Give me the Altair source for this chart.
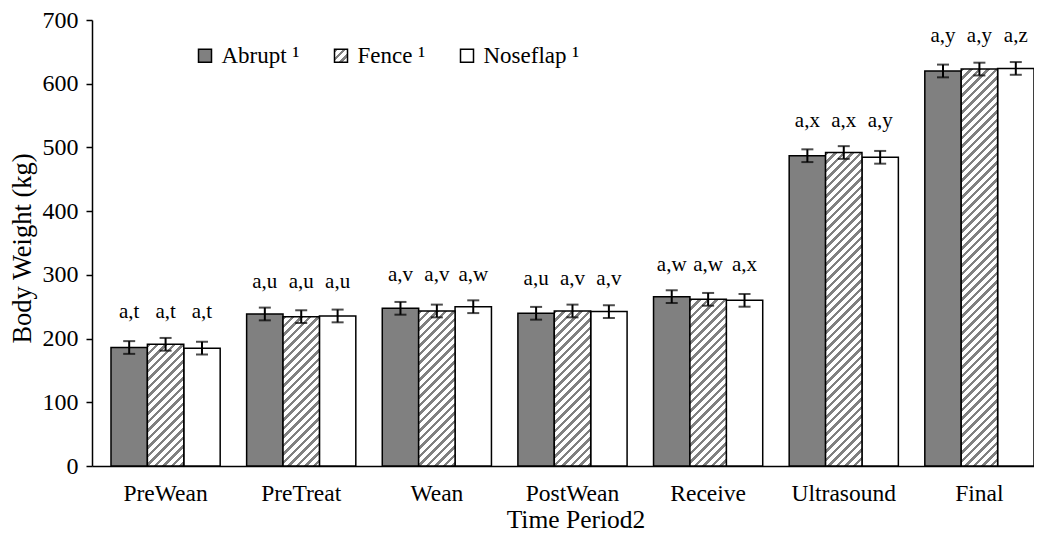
import altair as alt
import pandas as pd

periods = ["PreWean", "PreTreat", "Wean", "PostWean", "Receive", "Ultrasound", "Final"]
series = ["Abrupt", "Fence", "Noseflap"]

abrupt = [186, 238.6, 247.5, 239.7, 265.8, 487, 620]
fence = [191, 234.4, 243.3, 243.3, 261.6, 492, 623]
noseflap = [185, 235.5, 250, 242.3, 260, 484.5, 624]

abrupt_err = [10, 10, 10, 10, 10, 10, 10]
fence_err = [10, 10, 10, 10, 10, 10, 10]
noseflap_err = [10, 10, 10, 10, 10, 10, 10]

abrupt_lab = ["a,t", "a,u", "a,v", "a,u", "a,w", "a,x", "a,y"]
fence_lab = ["a,t", "a,u", "a,v", "a,v", "a,w", "a,x", "a,y"]
noseflap_lab = ["a,t", "a,u", "a,w", "a,v", "a,x", "a,y", "a,z"]

rows = []
for name, vals, errs, labs in [
    ("Abrupt", abrupt, abrupt_err, abrupt_lab),
    ("Fence", fence, fence_err, fence_lab),
    ("Noseflap", noseflap, noseflap_err, noseflap_lab),
]:
    for p, v, e, l in zip(periods, vals, errs, labs):
        rows.append({"period": p, "series": name, "value": v, "err": e, "lab": l})
df = pd.DataFrame(rows)

W = 942
H = 446
YMAX = 700
FONT = "Liberation Serif"
DARK = "#808080"
PI = 0.195
PO = 0.070
BARW = W / (7 - PI + 2 * PO) * (1 - PI) / 3


def hatch(w, h, period=8.5, frac=0.42):
    s = (w + h) * w / (w * w + h * h)
    n = (w + h) / period
    stops = []
    k = 0
    while k < n:
        a = k / n
        b = min((k + frac) / n, 1)
        c = min((k + 1) / n, 1)
        stops += [
            {"offset": a, "color": DARK},
            {"offset": b, "color": DARK},
            {"offset": b, "color": "#ffffff"},
            {"offset": c, "color": "#ffffff"},
        ]
        k += 1
    return {"gradient": "linear", "x1": 0, "y1": 0, "x2": s, "y2": s * h / w, "stops": stops}


# legend swatch gradient as a Vega expression object literal
lg = hatch(13, 13, period=8.5, frac=0.42)
stop_txt = ",".join("{offset:%.4f,color:'%s'}" % (st["offset"], st["color"]) for st in lg["stops"])
legend_expr = "{gradient:'linear',x1:0,y1:0,x2:%.4f,y2:%.4f,stops:[%s]}" % (lg["x2"], lg["y2"], stop_txt)

x_enc = alt.X(
    "period:N",
    sort=periods,
    scale=alt.Scale(domain=periods, paddingInner=PI, paddingOuter=PO, align=1, round=False),
    axis=alt.Axis(
        title="Time Period2",
        labelAngle=0,
        ticks=False,
        labelPadding=15,
        labelFontSize=23.5,
        titleFontSize=25.5,
        titleX=483.5,
        titleY=61,
        titleBaseline="alphabetic",
    ),
)
xo_enc = alt.XOffset("series:N", sort=series, scale=alt.Scale(domain=series, paddingInner=0, paddingOuter=0))
y_scale = alt.Scale(domain=[0, YMAX], nice=False, zero=True)
y_enc = alt.Y(
    "value:Q",
    scale=y_scale,
    axis=alt.Axis(
        title="Body Weight (kg)",
        values=[0, 100, 200, 300, 400, 500, 600, 700],
        grid=False,
        tickSize=6,
        labelPadding=8,
        labelFontSize=24,
        titleFontSize=26.5,
        titleAngle=270,
        titleX=-70,
        titleY=228,
        titleBaseline="middle",
    ),
)

base = alt.Chart(df)

bars_main = base.transform_filter(alt.datum.series != "Fence").mark_bar(
    stroke="black", strokeWidth=1.5
).encode(
    x=x_enc,
    xOffset=xo_enc,
    y=y_enc,
    fill=alt.Fill(
        "series:N",
        scale=alt.Scale(domain=series, range=[DARK, alt.ExprRef(legend_expr), "#ffffff"]),
        legend=alt.Legend(
            title=None,
            orient="none",
            legendX=101.5,
            legendY=24,
            direction="horizontal",
            symbolType="square",
            symbolSize=169,
            symbolStrokeColor="black",
            symbolStrokeWidth=1.5,
            labelFontSize=23,
            labelOffset=5,
            columnPadding=24,
            padding=0,
            labelLimit=300,
            labelExpr="datum.label + '  \u00b9'",
        ),
    ),
)

fence_layers = []
for p, v in zip(periods, fence):
    h = v * H / YMAX
    fence_layers.append(
        base.transform_filter(
            (alt.datum.series == "Fence") & (alt.datum.period == p)
        ).mark_bar(stroke="black", strokeWidth=1.5).encode(
            x=x_enc,
            xOffset=xo_enc,
            y=y_enc,
            fill=alt.value(hatch(BARW, h)),
        )
    )

err_base = base.transform_calculate(
    lo="datum.value - datum.err", hi="datum.value + datum.err"
)
err_rule = err_base.mark_rule(color="black", strokeWidth=2).encode(
    x=x_enc, xOffset=xo_enc, y=alt.Y("lo:Q", scale=y_scale), y2="hi:Q"
)
err_lo = err_base.mark_tick(color="black", thickness=2, size=12).encode(
    x=x_enc, xOffset=xo_enc, y=alt.Y("lo:Q", scale=y_scale)
)
err_hi = err_base.mark_tick(color="black", thickness=2, size=12).encode(
    x=x_enc, xOffset=xo_enc, y=alt.Y("hi:Q", scale=y_scale)
)

labels = base.transform_joinaggregate(
    gmax="max(value)", groupby=["period"]
).mark_text(fontSize=21, font=FONT, color="black", baseline="middle", dy=-32).encode(
    x=x_enc, xOffset=xo_enc, y=alt.Y("gmax:Q", scale=y_scale), text="lab:N"
)

chart = alt.layer(bars_main, *fence_layers, err_rule, err_lo, err_hi, labels).properties(
    width=W,
    height=H,
    autosize=alt.AutoSizeParams(type="none"),
    padding={"left": 84, "top": 12, "right": 0, "bottom": 66},
    background="white",
).configure_view(stroke=None).configure_axis(
    labelFont=FONT,
    titleFont=FONT,
    labelColor="black",
    titleColor="black",
    domainColor="black",
    tickColor="black",
    domainWidth=1.5,
    tickWidth=1.5,
    titleFontWeight="normal",
).configure_legend(
    labelFont=FONT, labelColor="black"
)

chart.save("out.html", embed_options={"renderer": "svg", "actions": False})
